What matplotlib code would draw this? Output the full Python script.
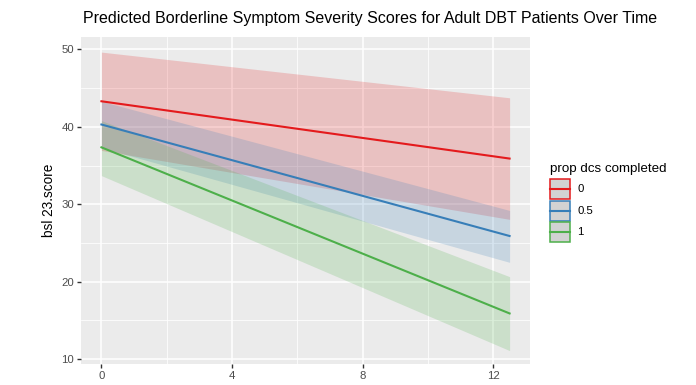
import matplotlib
matplotlib.use("Agg")
import matplotlib.pyplot as plt
from matplotlib.patches import Rectangle
from matplotlib.lines import Line2D
from matplotlib.ticker import MultipleLocator

plt.rcParams['font.family'] = ['Liberation Sans', 'DejaVu Sans']

# data
time = [0, 12.5]
groups = ["0", "0.5", "1"]
colors = ["#E41A1C", "#377EB8", "#4DAF4A"]
fit = {"0": [43.3, 35.9], "0.5": [40.3, 25.9], "1": [37.35, 15.9]}
lower = {"0": [36.95, 28.05], "0.5": [37.3, 22.5], "1": [33.7, 11.1]}
upper = {"0": [49.65, 43.75], "0.5": [43.3, 29.2], "1": [40.8, 20.65]}

title = "Predicted Borderline Symptom Severity Scores for Adult DBT Patients Over Time"
ylabel = "bsl 23.score"
legend_title = "prop dcs completed"

W, H = 696, 385
fig = plt.figure(figsize=(W / 100, H / 100), dpi=100)


def fx(px):
    return px / W


def fy(py):
    return 1 - py / H


ax = fig.add_axes([fx(81), fy(364), (530 - 81) / W, (364 - 37) / H])
ax.set_facecolor("#EBEBEB")

for g, c in zip(groups, colors):
    ax.fill_between(time, lower[g], upper[g], color=c, alpha=0.2, linewidth=0)
for g, c in zip(groups, colors):
    ax.plot(time, fit[g], color=c, linewidth=1.5)

ax.set_xlim(-0.625, 13.125)
ax.set_ylim(9.37, 51.6)
ax.xaxis.set_major_locator(MultipleLocator(4))
ax.xaxis.set_minor_locator(MultipleLocator(2))
ax.yaxis.set_major_locator(MultipleLocator(10))
ax.yaxis.set_minor_locator(MultipleLocator(5))
ax.grid(which='major', color='white', linewidth=1.1)
ax.grid(which='minor', color='white', linewidth=0.55)
ax.set_axisbelow(True)
for s in ax.spines.values():
    s.set_visible(False)
ax.tick_params(which='major', length=3, width=1, color='#333333', labelcolor='#4D4D4D',
               labelsize=8.2, pad=2)
ax.tick_params(which='minor', length=0)
ax.set_ylabel(ylabel, fontsize=9.8, color='black', labelpad=4)

fig.text(fx(370), fy(18), title, ha='center', va='center', fontsize=11.5, color='black')

# legend (drawn manually to mimic ggplot keys)
fig.text(fx(550), fy(169), legend_title, ha='left', va='center', fontsize=9.6, color='black')
key_tops = [179, 200.5, 222]
key_h = 20
for g, c, top in zip(groups, colors, key_tops):
    fig.add_artist(Rectangle((fx(550), fy(top + key_h)), 20 / W, key_h / H,
                             transform=fig.transFigure, facecolor='#D2D2D2',
                             edgecolor=c, linewidth=1.1))
    mid = top + key_h / 2
    fig.add_artist(Line2D([fx(550), fx(570)], [fy(mid), fy(mid)],
                          transform=fig.transFigure, color=c, linewidth=1.5))
    fig.text(fx(577), fy(mid), g, ha='left', va='center', fontsize=8.2, color='black')

fig.savefig("out.png", dpi=100)
